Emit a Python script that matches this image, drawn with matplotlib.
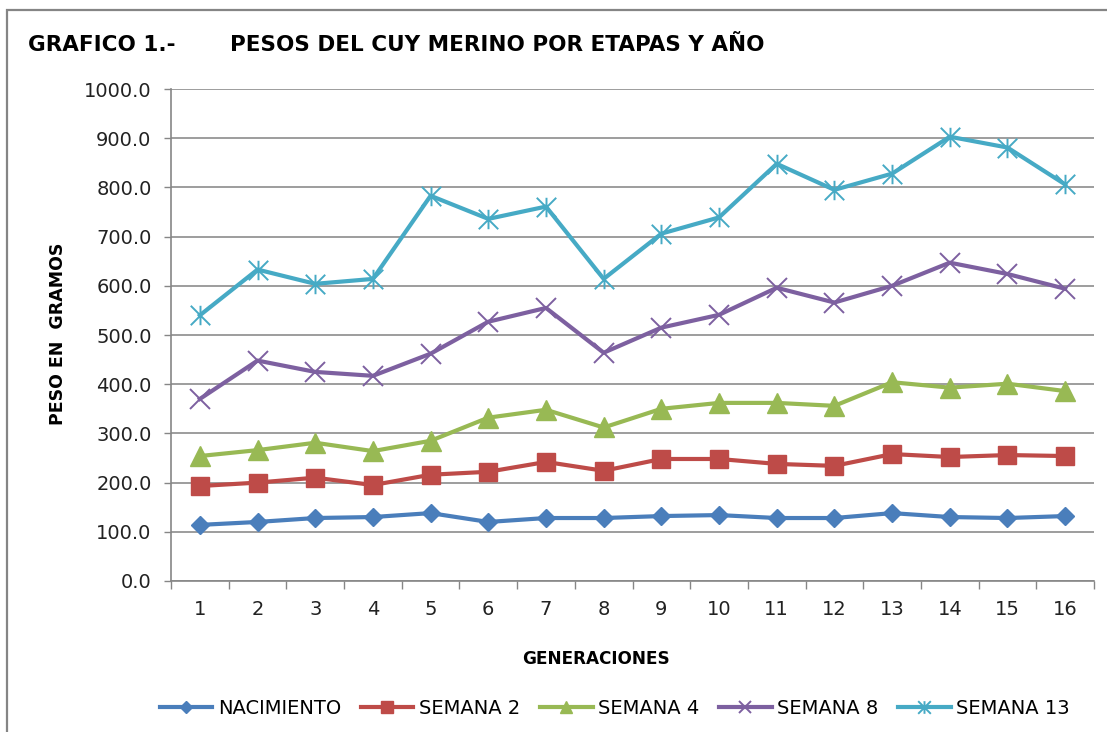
import matplotlib
matplotlib.use("Agg")
import matplotlib.pyplot as plt
from matplotlib.path import Path
from matplotlib.patches import Rectangle

plt.rcParams["font.family"] = "DejaVu Sans"

generaciones = list(range(1, 17))
nacimiento = [114, 120, 128, 130, 138, 120, 128, 128, 132, 134, 128, 128, 138, 130, 128, 132]
semana_2 = [193, 200, 210, 195, 216, 222, 242, 224, 248, 248, 238, 234, 258, 252, 256, 254]
semana_4 = [254, 266, 281, 264, 285, 332, 348, 312, 350, 362, 362, 356, 404, 393, 401, 386]
semana_8 = [370, 448, 425, 417, 462, 527, 555, 464, 515, 541, 596, 566, 600, 647, 624, 594]
semana_13 = [540, 633, 604, 614, 783, 736, 761, 614, 706, 739, 848, 795, 828, 903, 881, 806]

W, H = 1107, 732
fig = plt.figure(figsize=(W / 100, H / 100), dpi=100)

# marco gris del grafico
fig.patches.append(Rectangle((7 / W, -0.05), 1.1, 1 - 10 / H + 0.05, transform=fig.transFigure,
                             fill=False, edgecolor="#858585", lw=1.6))

ax = fig.add_axes([171 / W, 1 - 581 / H, (1094 - 171) / W, (581 - 89) / H])

# asterisco estilo Excel: X + linea vertical
star = Path([(0, -1), (0, 1), (-1, -1), (1, 1), (-1, 1), (1, -1)],
            [Path.MOVETO, Path.LINETO, Path.MOVETO, Path.LINETO, Path.MOVETO, Path.LINETO])

series = [
    ("NACIMIENTO", nacimiento, "#4A7EBB", "D", 9.5, 1),
    ("SEMANA 2", semana_2, "#BE4B48", "s", 13, 1),
    ("SEMANA 4", semana_4, "#98B954", "^", 14, 1),
    ("SEMANA 8", semana_8, "#7D60A0", "x", 14, 1.4),
    ("SEMANA 13", semana_13, "#46AAC5", star, 14, 1.4),
]
for name, vals, col, mk, ms, mew in series:
    ax.plot(generaciones, vals, color=col, lw=3, marker=mk, ms=ms,
            mfc=col, mec=col, mew=mew, label=name, clip_on=False)

ax.set_xlim(0.5, 16.5)
ax.set_ylim(0, 1000)
ax.set_yticks(range(0, 1001, 100))
ax.set_yticklabels([f"{v:.1f}" for v in range(0, 1001, 100)])
ax.set_xticks(generaciones)
ax.set_xticks([g + 0.5 for g in range(0, 17)], minor=True)
ax.tick_params(axis="x", which="major", length=0, pad=14, labelsize=14, labelcolor="#222222")
ax.tick_params(axis="x", which="minor", length=6, width=1, color="#868686", direction="out")
ax.tick_params(axis="y", length=5, width=1, color="#868686", pad=9, labelsize=14, labelcolor="#222222")

ax.grid(axis="y", color="#8c8c8c", lw=1.2)
ax.set_axisbelow(True)
for s in ["top", "right"]:
    ax.spines[s].set_visible(False)
for s in ["left", "bottom"]:
    ax.spines[s].set_color("#868686")
    ax.spines[s].set_linewidth(1.2)

fig.text(28 / W, 1 - 45 / H, "GRAFICO 1.-", fontsize=15.5, fontweight="bold", va="center", ha="left")
fig.text(230 / W, 1 - 45 / H, "PESOS DEL CUY MERINO POR ETAPAS Y AÑO", fontsize=15.5,
         fontweight="bold", va="center", ha="left")
fig.text(58 / W, 1 - 334 / H, "PESO EN  GRAMOS", fontsize=12.5, fontweight="bold",
         rotation=90, va="center", ha="center")
fig.text(596 / W, 1 - 659 / H, "GENERACIONES", fontsize=12.2, fontweight="bold",
         va="center", ha="center")

fig.legend(loc="center", bbox_to_anchor=(615 / W, 1 - 708 / H), ncol=5, frameon=False,
           fontsize=14, handlelength=2.7, handletextpad=0.3, columnspacing=1.0,
           markerscale=0.65)

fig.savefig("out.png", dpi=100)
